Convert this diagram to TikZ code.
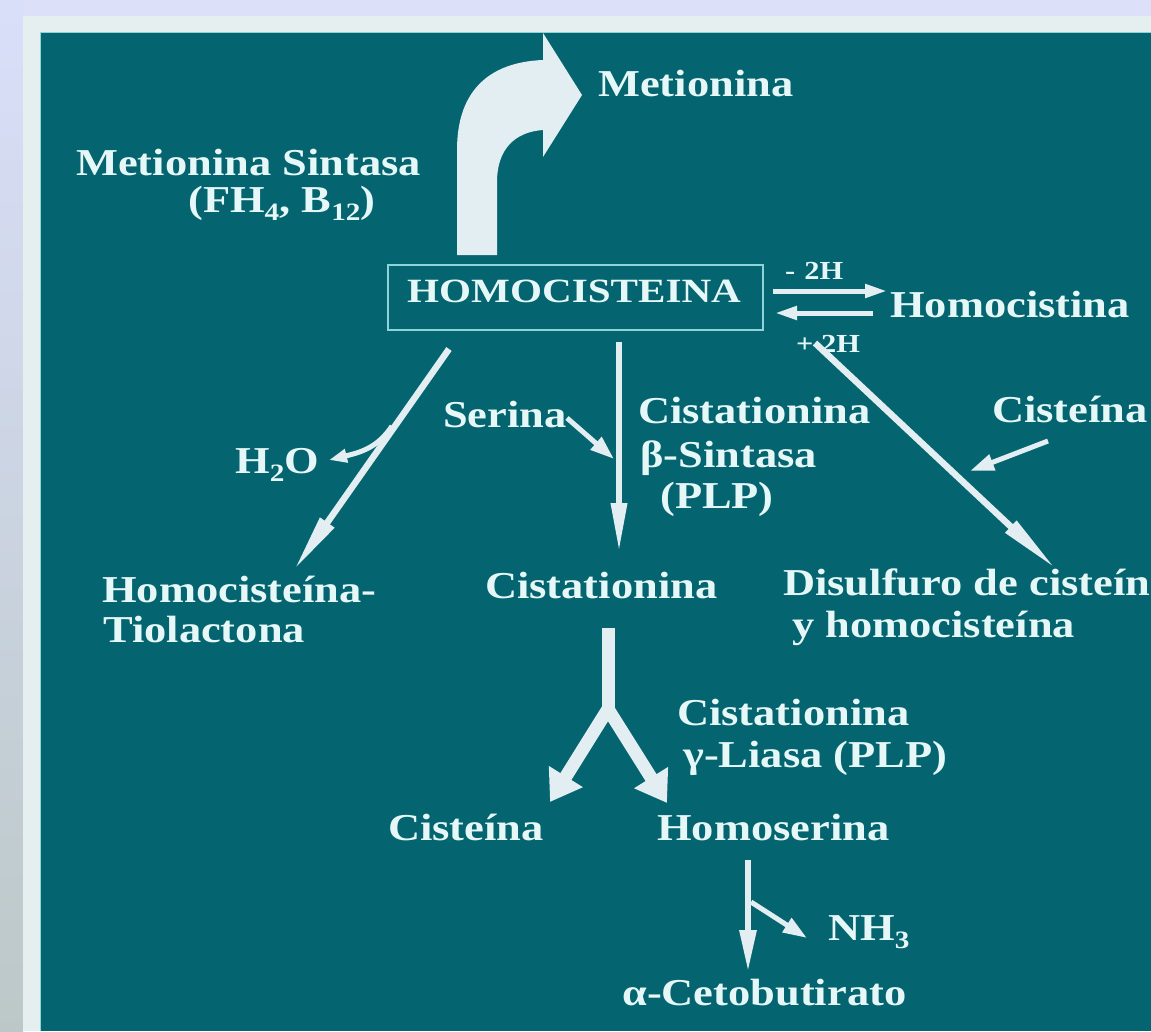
\documentclass[tikz,border=0pt]{standalone}
\usepackage{fontspec}
\setmainfont{Liberation Serif}
\usetikzlibrary{arrows.meta}
\definecolor{teal0}{HTML}{04646F}
\definecolor{lav}{HTML}{DCE1F9}
\definecolor{frame0}{HTML}{E6EFF0}
\definecolor{strtop}{HTML}{D9DFF9}
\definecolor{strbot}{HTML}{BCC8C8}
\definecolor{txtc}{HTML}{E6F7F8}
\definecolor{arrc}{HTML}{E2EEF2}
\definecolor{boxc}{HTML}{8FD3DA}
\newcommand\bigf{\fontsize{38}{42}\selectfont\bfseries}
\newcommand\smallf{\fontsize{26}{28}\selectfont\bfseries}
\newcommand\lo[1]{\raisebox{-0.22em}{\fontsize{25}{25}\selectfont #1}}
\newcommand\sx[1]{\scalebox{1.17}[1]{#1}}
\begin{document}
\begin{tikzpicture}[x=1pt,y=-1pt,
  lbl/.style={text=txtc,font=\bigf,inner sep=0pt,anchor=base west},
  slbl/.style={lbl,font=\smallf},
  thinarrow/.style={draw=arrc,line width=6.5pt,-{Triangle[length=58pt,width=16pt]}},
  midarrow/.style={draw=arrc,line width=5pt,-{Triangle[length=24pt,width=16pt]}},
  eqarrow/.style={draw=arrc,line width=5pt,-{Triangle[length=22pt,width=13pt]}},
  fatarrow/.style={draw=arrc,line width=13pt,-{Triangle[length=30pt,width=38pt]}},
  fatline/.style={draw=arrc,line width=13pt,line join=miter}]
\useasboundingbox (0,0) rectangle (1151,1031);
\clip (0,0) rectangle (1151,1031);
% background
\fill[lav] (0,0) rectangle (1151,1031);
\shade[top color=strtop,bottom color=strbot] (0,0) rectangle (23,1031);
\fill[frame0] (23,16) rectangle (1151,1031);
\fill[teal0] (40,32) rectangle (1151,1031);
\draw[boxc,line width=1pt] (40,1031) -- (40,32) -- (1151,32);

% texts
\node[lbl] (mett) at (598,96) {\sx{Metionina}};
\node[lbl] (mss) at (76,175) {\sx{Metionina Sintasa}};
\node[lbl] (fh) at (188,212) {\sx{(FH\lo{4}, B\lo{12})}};
\node[lbl,font=\fontsize{34}{38}\selectfont\bfseries] (homo) at (407,302) {\scalebox{1.21}[1]{HOMOCISTEINA}};
\node[slbl] (minus) at (785,279) {\sx{-\hspace{0.3em}2H}};
\node[slbl] (plus) at (796,352) {\sx{+\hspace{0.25em}2H}};
\node[lbl] (homocistina) at (890,317) {\sx{Homocistina}};
\node[lbl] (serina) at (443,427) {\sx{Serina}};
\node[lbl] (cis1) at (638,423) {\sx{Cistationina}};
\node[lbl] (bsint) at (640,467) {\sx{β-Sintasa}};
\node[lbl] (plp1) at (660,508) {\sx{(PLP)}};
\node[lbl] (cistR) at (992,422) {\sx{Cisteína}};
\node[lbl] (h2o) at (235,473) {\sx{H\lo{2}O}};
\node[lbl] (htl) at (102,602) {\sx{Homocisteína-}};
\node[lbl] (tiol) at (103,642) {\sx{Tiolactona}};
\node[lbl] (cistP) at (485,598) {\sx{Cistationina}};
\node[lbl] (disulf) at (783,595) {\sx{Disulfuro de cisteína}};
\node[lbl] (yhomo) at (792,637) {\sx{y homocisteína}};
\node[lbl] (cisL) at (677,725) {\sx{Cistationina}};
\node[lbl] (gly) at (683,767) {\sx{γ-Liasa (PLP)}};
\node[lbl] (cisB) at (388,840) {\sx{Cisteína}};
\node[lbl] (homoser) at (657,840) {\sx{Homoserina}};
\node[lbl] (nh3) at (828,940) {\sx{NH\lo{3}}};
\node[lbl] (aceto) at (622,1005) {\sx{α-Cetobutirato}};

% box around HOMOCISTEINA
\draw[boxc,line width=2.5pt] (388,265) rectangle (763,330);

% big curved arrow to Metionina
\fill[arrc] (457,255) -- (457,150) .. controls (457,88) and (492,62) .. (543,60)
  -- (543,33) -- (582,95) -- (543,157) -- (543,130)
  .. controls (514,132) and (497,150) .. (497,182) -- (497,255) -- cycle;

% coordinates
\coordinate (eqa1) at (773,291); \coordinate (eqa2) at (887,291);
\coordinate (eqb1) at (873,313); \coordinate (eqb2) at (775,313);
\coordinate (ld1) at (449,349); \coordinate (ld2) at (294,570);
\coordinate (lb1) at (392,426); \coordinate (lb2) at (329,460);
\coordinate (cv1) at (619,342); \coordinate (cv2) at (619,553);
\coordinate (se1) at (567,418); \coordinate (se2) at (614,459);
\coordinate (rd1) at (815,343); \coordinate (rd2) at (1056,569);
\coordinate (ci1) at (1048,441); \coordinate (ci2) at (970,471);
\coordinate (ys) at (608,628); \coordinate (yj) at (608,709);
\coordinate (yl) at (550,802); \coordinate (yr) at (667,803);
\coordinate (bv1) at (748,860); \coordinate (bv2) at (748,972);
\coordinate (nb1) at (751,902); \coordinate (nb2) at (807,938);

% equilibrium arrows
\draw[eqarrow] (eqa1) -- (eqa2);
\draw[eqarrow] (eqb1) -- (eqb2);

% thin arrows
\draw[thinarrow] (ld1) -- (ld2);
\draw[draw=arrc,line width=5pt,-{Triangle[length=18pt,width=13pt]}] (lb1) .. controls (378,447) and (362,452) .. (lb2);
\draw[thinarrow,-{Triangle[length=50pt,width=15pt]}] (cv1) -- (cv2);
\draw[midarrow] (se1) -- (se2);
\draw[thinarrow,-{Triangle[length=62pt,width=15pt]}] (rd1) -- (rd2);
\draw[midarrow] (ci1) -- (ci2);

% split arrow
\draw[fatline] (ys) -- (yj);
\draw[fatarrow] (yj) -- (yl);
\draw[fatarrow] (yj) -- (yr);

% bottom arrow
\draw[draw=arrc,line width=6pt,-{Triangle[length=42pt,width=16pt]}] (bv1) -- (bv2);
\draw[midarrow] (nb1) -- (nb2);
\end{tikzpicture}
\end{document}
